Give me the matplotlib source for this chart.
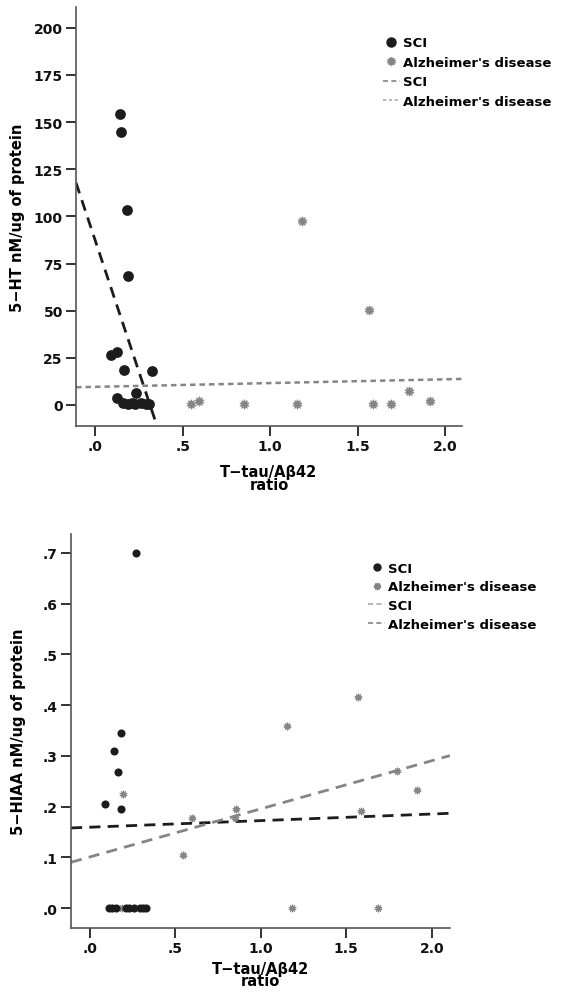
import numpy as np
import matplotlib
matplotlib.use('Agg')
import matplotlib.pyplot as plt
from matplotlib.lines import Line2D

plt.rcParams['font.family'] = ['DejaVu Sans']

# Panel superior: 5-HT
ht_sci_x = [0.143, 0.147, 0.181, 0.185, 0.09, 0.124, 0.166, 0.327, 0.124, 0.234,
            0.16, 0.19, 0.21, 0.23, 0.26, 0.29, 0.31]
ht_sci_y = [154.5, 144.5, 103.6, 68.4, 26.7, 28.0, 18.6, 18.0, 3.7, 6.2,
            1.0, 0.5, 0.8, 0.5, 0.8, 0.5, 0.6]
ht_ad_x = [1.185, 1.567, 1.796, 1.914, 1.587, 1.69, 1.156, 0.853, 0.594, 0.545, 0.185]
ht_ad_y = [97.4, 50.4, 7.6, 2.0, 0.3, 0.3, 0.3, 0.3, 2.0, 0.3, 0.3]
ht_fit_sci = [87.2, -278.5]   # intercepto, pendiente
ht_fit_ad = [9.6, 2.0]

# Panel inferior: 5-HIAA
hiaa_sci_x = [0.269, 0.18, 0.139, 0.164, 0.088, 0.183,
              0.113, 0.13, 0.15, 0.21, 0.23, 0.26, 0.29, 0.31, 0.328]
hiaa_sci_y = [0.700, 0.345, 0.309, 0.269, 0.205, 0.196,
              0, 0, 0, 0, 0, 0, 0, 0, 0]
hiaa_ad_x = [1.571, 1.152, 1.796, 1.913, 1.585, 0.855, 0.849, 0.595, 0.543, 0.195,
             1.185, 1.688, 0.185]
hiaa_ad_y = [0.416, 0.358, 0.271, 0.233, 0.192, 0.196, 0.178, 0.178, 0.105, 0.225,
             0, 0, 0]
hiaa_fit_sci = [0.1595, 0.013]
hiaa_fit_ad = [0.101, 0.0947]

x_ticks = [0.0, 0.5, 1.0, 1.5, 2.0]
x_ticklabels = ['.0', '.5', '1.0', '1.5', '2.0']
ht_ticks = [0, 25, 50, 75, 100, 125, 150, 175, 200]
hiaa_ticks = [0, 0.1, 0.2, 0.3, 0.4, 0.5, 0.6, 0.7]
hiaa_ticklabels = ['.0', '.1', '.2', '.3', '.4', '.5', '.6', '.7']

black = '#1c1c1c'
gray = '#858585'
axcol = '#555555'

fig = plt.figure(figsize=(5.65, 9.95), dpi=100)
ax1 = fig.add_axes([76/565, 1-426.7/995, 386/565, 418.7/995])
ax2 = fig.add_axes([71/565, 1-929/995, 379/565, 394/995])


def estilo(ax):
    for s in ['top', 'right']:
        ax.spines[s].set_visible(False)
    for s in ['left', 'bottom']:
        ax.spines[s].set_color(axcol)
        ax.spines[s].set_linewidth(1.2)
    ax.tick_params(direction='out', length=7.5, width=1.3, color='#222222',
                   labelsize=10, pad=2)
    for lab in ax.get_xticklabels() + ax.get_yticklabels():
        lab.set_fontweight('bold')
        lab.set_color('#111111')


star = (10, 1, 0)

# ---- panel superior
xl1 = (-0.11, 2.097)
ax1.set_xlim(*xl1)
ax1.set_ylim(-11, 211)
xx = np.array(xl1)
ax1.plot(xx, ht_fit_sci[0] + ht_fit_sci[1]*xx, color=black, lw=2.0, dashes=(4, 2.6))
ax1.plot(xx, ht_fit_ad[0] + ht_fit_ad[1]*xx, color=gray, lw=1.8, dashes=(2.2, 1.6))
ax1.scatter(ht_ad_x, ht_ad_y, s=42, marker=star, color=gray, linewidths=0.8, edgecolors=gray, zorder=3)
ax1.scatter(ht_sci_x, ht_sci_y, s=60, marker='o', color=black, linewidths=0, zorder=4)
ax1.set_xticks(x_ticks)
ax1.set_xticklabels(x_ticklabels)
ax1.set_yticks(ht_ticks)
estilo(ax1)
ax1.set_xlabel('T\u2212tau/A\u03b242\nratio', fontsize=10.5, fontweight='bold', linespacing=0.8, labelpad=8)
ax1.set_ylabel('5\u2212HT nM/ug of protein', fontsize=10.5, fontweight='bold', labelpad=6)

h1 = [Line2D([], [], ls='none', marker='o', color=black, ms=6.5),
      Line2D([], [], ls='none', marker=star, color=gray, ms=6),
      Line2D([], [], color=gray, lw=1.2, dashes=(3, 2)),
      Line2D([], [], color='#aaaaaa', lw=1.2, dashes=(2, 1.5))]
ax1.legend(h1, ['SCI', "Alzheimer's disease", 'SCI', "Alzheimer's disease"],
           loc='upper left', bbox_to_anchor=(0.795, 0.93), frameon=False,
           prop={'size': 9.5, 'weight': 'bold'}, handlelength=1.3,
           handletextpad=0.2, labelspacing=0.49, borderpad=0, borderaxespad=0)

# ---- panel inferior
xl2 = (-0.111, 2.107)
ax2.set_xlim(*xl2)
ax2.set_ylim(-0.039, 0.737)
xx = np.array(xl2)
ax2.plot(xx, hiaa_fit_sci[0] + hiaa_fit_sci[1]*xx, color=black, lw=2.0, dashes=(4, 2.6))
ax2.plot(xx, hiaa_fit_ad[0] + hiaa_fit_ad[1]*xx, color=gray, lw=2.0, dashes=(4, 2.6))
ax2.scatter(hiaa_ad_x, hiaa_ad_y, s=30, marker=star, color=gray, linewidths=0.6, edgecolors=gray, zorder=3)
ax2.scatter(hiaa_sci_x, hiaa_sci_y, s=34, marker='o', color=black, linewidths=0, zorder=4)
ax2.set_xticks(x_ticks)
ax2.set_xticklabels(x_ticklabels)
ax2.set_yticks(hiaa_ticks)
ax2.set_yticklabels(hiaa_ticklabels)
estilo(ax2)
ax2.set_xlabel('T\u2212tau/A\u03b242\nratio', fontsize=10.5, fontweight='bold', linespacing=0.75, labelpad=4)
ax2.set_ylabel('5\u2212HIAA nM/ug of protein', fontsize=10.5, fontweight='bold', labelpad=12)

h2 = [Line2D([], [], ls='none', marker='o', color=black, ms=5),
      Line2D([], [], ls='none', marker=star, color=gray, ms=5),
      Line2D([], [], color='#aaaaaa', lw=1.2, dashes=(3, 2)),
      Line2D([], [], color=gray, lw=1.2, dashes=(3, 2))]
ax2.legend(h2, ['SCI', "Alzheimer's disease", 'SCI', "Alzheimer's disease"],
           loc='upper left', bbox_to_anchor=(0.784, 0.93), frameon=False,
           prop={'size': 9.5, 'weight': 'bold'}, handlelength=1.3,
           handletextpad=0.2, labelspacing=0.43, borderpad=0, borderaxespad=0)

fig.savefig('out.png', dpi=100, facecolor='white')
